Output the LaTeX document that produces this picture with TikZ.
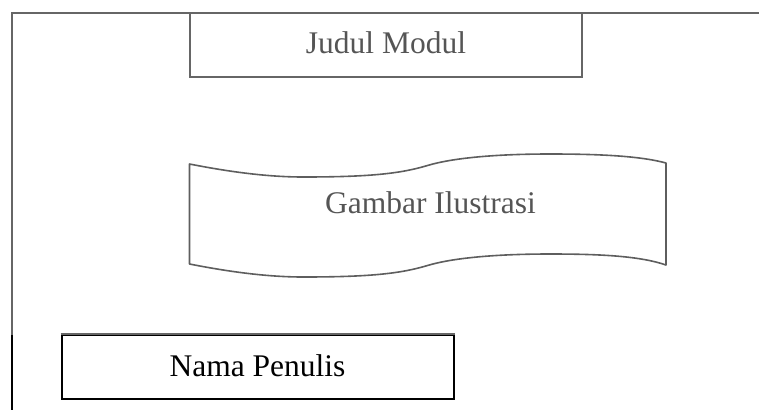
\documentclass[tikz,border=0pt]{standalone}
\usepackage{fontspec}
\setmainfont{Liberation Serif}
\definecolor{framegray}{HTML}{666666}
\definecolor{wavegray}{HTML}{5E5E5E}
\definecolor{textgray}{HTML}{555555}
\tikzset{
  frameline/.style={draw=framegray, line width=2pt},
  titlebox/.style={draw=framegray, line width=2pt, rectangle, inner sep=0pt,
    minimum width=392pt, minimum height=64pt, text=textgray,
    font=\fontsize{31.5}{36}\selectfont, text height=21pt, text depth=5.6pt},
  authorbox/.style={draw=black, line width=2pt, rectangle, inner sep=0pt,
    minimum width=392pt, minimum height=64pt, text=black,
    font=\fontsize{31.5}{36}\selectfont, text height=21pt, text depth=3pt},
  waveline/.style={draw=wavegray, line width=1.6pt, line join=round},
  wavetext/.style={text=textgray, font=\fontsize{31.5}{36}\selectfont,
    inner sep=0pt, anchor=base}
}
\begin{document}
\begin{tikzpicture}[x=1pt, y=-1pt]
  \useasboundingbox (0,0) rectangle (759,410);

  % page frame: top edge and left edge
  \coordinate (tl) at (11.5,13.3);
  \coordinate (tr) at (759,13.3);
  \coordinate (lm) at (11.5,335);
  \coordinate (bl) at (11.5,410);
  \draw[frameline] (tr) -- (tl) -- (lm);
  \draw[line width=2pt, black] (lm) -- (bl);

  % title box
  \node[titlebox] (judul) at (386,45.3) {Judul Modul};

  % illustration banner (wave shape): trough, steep middle, crest
  \coordinate (wtl) at (189.5,164);
  \coordinate (wtr) at (666,163);
  \coordinate (wbr) at (666,265);
  \coordinate (wbl) at (189.5,264);
  \draw[waveline] (wtl)
      .. controls (225,171) and (265,177) .. (303,177)
      .. controls (370,177) and (400.5,173.6) .. (427.5,165.5)
      .. controls (454.5,157.4) and (500,154) .. (550,154)
      .. controls (600,154) and (640,156) .. (wtr)
    -- (wbr)
      .. controls (640,256) and (600,254) .. (550,254)
      .. controls (500,254) and (454.5,257.4) .. (427.5,265.5)
      .. controls (400.5,273.6) and (370,277) .. (303,277)
      .. controls (265,277) and (225,271) .. (wbl)
    -- cycle;
  \node[wavetext] (gambar) at (430.5,213) {Gambar Ilustrasi};

  % author box
  \node[authorbox] (nama) at (257.5,367) {Nama Penulis};
  \draw[draw=framegray, line width=2pt] (nama.north west) -- (nama.north east);
\end{tikzpicture}
\end{document}
